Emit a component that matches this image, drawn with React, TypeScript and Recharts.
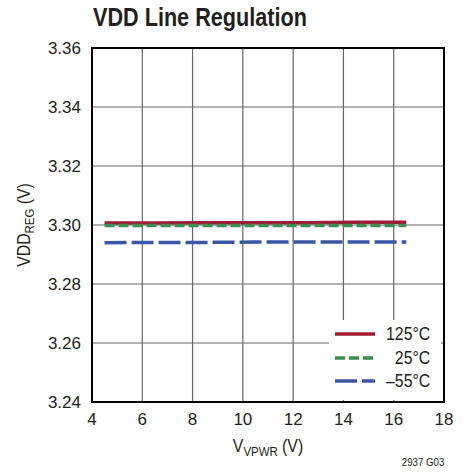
import { CartesianGrid, Legend, Line, LineChart, ReferenceArea, XAxis, YAxis } from "recharts"

const vpwr = [4.5, 6.5, 8.5, 10.5, 12.5, 14.5, 16.5]
const reg125 = [3.3007, 3.3007, 3.3008, 3.3008, 3.3008, 3.3009, 3.3009]
const reg25 = [3.2998, 3.2998, 3.2998, 3.2998, 3.2998, 3.2998, 3.2998]
const regM55 = [3.294, 3.2941, 3.2941, 3.2942, 3.2942, 3.2942, 3.2942]

const xTicks = [4, 6, 8, 10, 12, 14, 16, 18]
const yTicks = [3.24, 3.26, 3.28, 3.3, 3.32, 3.34, 3.36]
const seriesNames = ["125°C", "25°C", "–55°C"]

const data = vpwr.map((v, i) => ({ v, t125: reg125[i], t25: reg25[i], tm55: regM55[i] }))

const FONT = "'Liberation Sans', Arial, sans-serif"
const INK = "#231f20"
const NARROW = 0.88

const series = [
  { key: "t125", name: seriesNames[0], color: "#9e1b32", dash: undefined as string | undefined },
  { key: "t25", name: seriesNames[1], color: "#3f8c4f", dash: "10 4" },
  { key: "tm55", name: seriesNames[2], color: "#3c56a6", dash: "22 5" },
]

function LegendBox() {
  return (
    <div style={{ background: "#fff", width: 112, height: 80, fontFamily: FONT, color: INK }}>
      {series.map((s, i) => (
        <div key={s.key} style={{ position: "absolute", left: 0, top: 4 + i * 23.5, width: 101, height: 22 }}>
          <svg width={42} height={22} style={{ position: "absolute", left: 6, top: 0 }}>
            <line x1={0} x2={40} y1={10} y2={10} stroke={s.color} strokeWidth={3.5} strokeDasharray={s.dash} />
          </svg>
          <span
            style={{
              position: "absolute",
              right: 0,
              top: -1,
              fontSize: 18,
              lineHeight: "22px",
              transform: `scaleX(${NARROW})`,
              transformOrigin: "right center",
              whiteSpace: "nowrap",
            }}
          >
            {s.name}
          </span>
        </div>
      ))}
    </div>
  )
}

function YLabel(props: any) {
  const vb = props.viewBox || { y: 48, height: 354 }
  const cy = vb.y + vb.height / 2
  return (
    <text
      transform={`translate(30, ${cy}) rotate(-90) scale(${NARROW}, 1)`}
      textAnchor="middle"
      fontSize={18}
      fill={INK}
      fontFamily={FONT}
    >
      VDD
      <tspan fontSize={13} dy={4}>REG</tspan>
      <tspan dy={-4} fontSize={18}> (V)</tspan>
    </text>
  )
}

function XLabel(props: any) {
  const vb = props.viewBox || { x: 92, width: 352 }
  const cx = vb.x + vb.width / 2
  return (
    <text
      transform={`translate(${cx}, 452) scale(${NARROW}, 1)`}
      textAnchor="middle"
      fontSize={18}
      fill={INK}
      fontFamily={FONT}
    >
      V
      <tspan fontSize={13} dy={4}>VPWR</tspan>
      <tspan dy={-4} fontSize={18}> (V)</tspan>
    </text>
  )
}

export default function App() {
  return (
    <div style={{ position: "absolute", left: 0, top: 0, width: 468, height: 472, background: "#fff", fontFamily: FONT }}>
      <div
        style={{
          position: "absolute",
          left: 93,
          top: 3,
          fontSize: 25,
          fontWeight: 700,
          color: INK,
          whiteSpace: "nowrap",
          transform: "scaleX(0.865)",
          transformOrigin: "left center",
        }}
      >
        VDD Line Regulation
      </div>
      <div
        style={{
          position: "absolute",
          right: 24,
          top: 456,
          fontSize: 11,
          color: INK,
          transform: `scaleX(${NARROW})`,
          transformOrigin: "right center",
        }}
      >
        2937 G03
      </div>
      <div style={{ position: "absolute", left: 0, top: 0 }}>
        <LineChart width={468} height={472} data={data} margin={{ top: 48, right: 24, bottom: 40, left: 0 }}>
          <CartesianGrid stroke="#666" strokeWidth={1.2} />
          <XAxis
            type="number"
            dataKey="v"
            domain={[4, 18]}
            ticks={xTicks}
            height={30}
            axisLine={false}
            tickLine={false}
            tickSize={0}
            tickMargin={11}
            tick={{ fontSize: 17, fill: INK, fontFamily: FONT }}
            label={<XLabel />}
          />
          <YAxis
            type="number"
            domain={[3.24, 3.36]}
            ticks={yTicks}
            width={92}
            axisLine={false}
            tickLine={false}
            tickSize={0}
            tickMargin={11}
            tickFormatter={(v: number) => v.toFixed(2)}
            tick={{ fontSize: 17, fill: INK, fontFamily: FONT }}
            label={<YLabel />}
          />
          <ReferenceArea x1={4} x2={18} y1={3.24} y2={3.36} fill="none" stroke="#000" strokeWidth={2} />
          {series.map((s) => (
            <Line
              key={s.key}
              dataKey={s.key}
              name={s.name}
              stroke={s.color}
              strokeWidth={3.5}
              strokeDasharray={s.dash}
              dot={false}
              isAnimationActive={false}
            />
          ))}
          <Legend
            layout="vertical"
            align="center"
            verticalAlign="middle"
            content={<LegendBox />}
            wrapperStyle={{ left: 329, top: 320, width: 112, height: 80 }}
          />
        </LineChart>
      </div>
    </div>
  )
}
